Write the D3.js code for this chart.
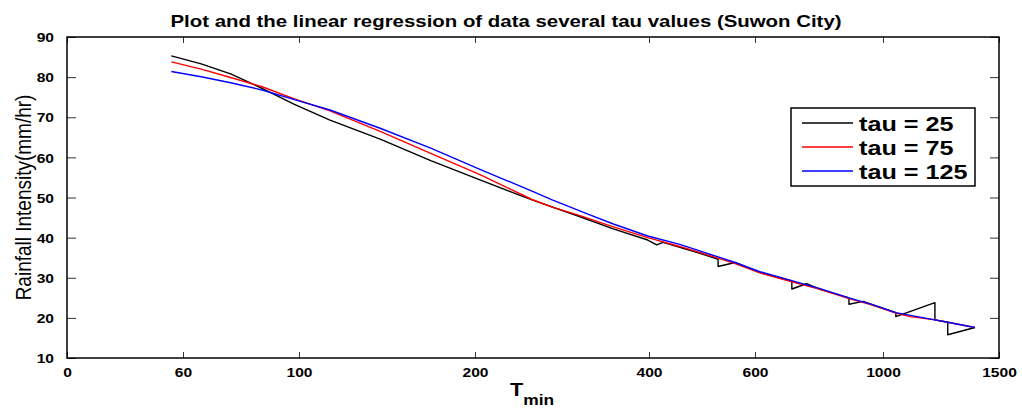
<!DOCTYPE html>
<html><head><meta charset="utf-8">
<script src="https://cdn.jsdelivr.net/npm/d3@7"></script>
<style>body{margin:0;background:#fff} svg{display:block}</style>
</head><body>
<svg id="c" width="1022" height="409"></svg>
<script>
const titleText = "Plot and the linear regression of data several tau values (Suwon City)";
const yLabelText = "Rainfall Intensity(mm/hr)";
const xTickValues = [36, 60, 100, 200, 400, 600, 1000, 1500];
const xTickLabels = ["0", "60", "100", "200", "400", "600", "1000", "1500"];
const yTickValues = [10, 20, 30, 40, 50, 60, 70, 80, 90];
const seriesNames = ["tau = 25", "tau = 75", "tau = 125"];
const seriesColors = ["#000000", "#ff0000", "#0000ff"];

const tau25T = [57, 65, 74, 85, 98, 113, 138, 168, 204, 251, 304, 347, 398, 412, 422, 450, 486, 521, 521, 556, 612, 695, 695, 737, 778, 873, 873, 924, 1046, 1046, 1199, 1199, 1254, 1254, 1379];
const tau25V = [85.3, 83.3, 80.8, 77.2, 73.2, 69.3, 64.5, 59.2, 54.4, 49.4, 45.2, 42.2, 39.4, 38.2, 38.8, 37.6, 36.1, 34.6, 32.8, 33.8, 31.3, 29.2, 27.2, 28.5, 27.1, 25.0, 23.4, 24.1, 21.3, 20.3, 23.8, 19.5, 18.9, 15.8, 17.6];

const tau75T = [57, 65, 74, 85, 98, 113, 138, 168, 204, 251, 272, 304, 347, 398, 450, 521, 556, 612, 695, 778, 873, 949, 1046, 1099, 1138, 1199, 1254, 1379];
const tau75V = [83.8, 82.0, 79.9, 77.6, 74.6, 71.6, 66.4, 61.0, 55.7, 49.5, 47.6, 45.5, 42.7, 40.0, 37.8, 34.9, 33.5, 31.2, 29.0, 27.1, 24.8, 23.4, 21.2, 20.3, 20.0, 19.5, 18.9, 17.6];

const tau125T = [57, 65, 74, 85, 98, 113, 138, 168, 204, 251, 272, 312, 347, 398, 450, 521, 556, 612, 695, 778, 873, 949, 1046, 1138, 1199, 1254, 1379];
const tau125V = [81.4, 80.1, 78.6, 76.8, 74.4, 71.8, 67.2, 62.3, 57.0, 51.6, 49.4, 46.0, 43.4, 40.4, 38.3, 35.2, 33.8, 31.5, 29.3, 27.3, 25.0, 23.5, 21.3, 20.2, 19.5, 18.9, 17.6];

const svg = d3.select("#c");
svg.append("rect").attr("width", 1022).attr("height", 409).attr("fill", "#fff");

const L = 67, R = 999, T = 37, B = 358;
const x = d3.scaleLog().domain(xTickValues).range([67, 183, 299, 475, 649, 755, 883, 999]);
const y = d3.scaleLinear().domain([10, 90]).range([B, T]);

const FONT = "'Liberation Sans', Arial, Helvetica, sans-serif";
const SX = 1.2;
function stretch(sel, f) {
  sel.each(function () {
    const w = this.getComputedTextLength();
    this.setAttribute("textLength", w * f);
    this.setAttribute("lengthAdjust", "spacingAndGlyphs");
  });
}

// axes
const xAxis = d3.axisBottom(x).tickValues(xTickValues)
  .tickFormat((d, i) => xTickLabels[i]).tickSizeInner(-6).tickSizeOuter(0).tickPadding(10);
const gx = svg.append("g").attr("transform", `translate(0,${B})`).call(xAxis);
const yAxis = d3.axisLeft(y).tickValues(yTickValues).tickSizeInner(-9).tickSizeOuter(0).tickPadding(13);
const gy = svg.append("g").attr("transform", `translate(${L},0)`).call(yAxis);
const gxt = svg.append("g").attr("transform", `translate(0,${T})`)
  .call(d3.axisTop(x).tickValues(xTickValues).tickFormat("").tickSizeInner(-6).tickSizeOuter(0));
const gyr = svg.append("g").attr("transform", `translate(${R},0)`)
  .call(d3.axisRight(y).tickValues(yTickValues).tickFormat("").tickSizeInner(-9).tickSizeOuter(0));

[gx, gy, gxt, gyr].forEach(g => {
  g.select(".domain").remove();
  g.selectAll(".tick line").attr("stroke", "#333").attr("stroke-width", 1);
  g.selectAll("text").attr("font-family", FONT).attr("font-weight", "bold")
    .attr("font-size", 13).attr("fill", "#000");
});
gy.selectAll(".tick text").attr("dy", "0.36em");
stretch(gx.selectAll(".tick text"), SX);
stretch(gy.selectAll(".tick text"), SX);

// box
svg.append("rect").attr("x", L).attr("y", T).attr("width", R - L).attr("height", B - T)
  .attr("fill", "none").attr("stroke", "#000").attr("stroke-width", 1.5);

// lines
const series = [
  { t: tau25T, v: tau25V },
  { t: tau75T, v: tau75V },
  { t: tau125T, v: tau125V }
];
const line = d3.line().x(d => x(d[0])).y(d => y(d[1]));
series.forEach((s, i) => {
  const pts = s.t.map((t, j) => [t, s.v[j]]);
  svg.append("path").datum(pts).attr("d", line).attr("fill", "none")
    .attr("stroke", seriesColors[i]).attr("stroke-width", 1.4).attr("stroke-linejoin", "round");
});

// title
const tt = svg.append("text").attr("x", 506).attr("y", 27).attr("text-anchor", "middle")
  .attr("font-family", FONT).attr("font-weight", "bold").attr("font-size", 17).text(titleText);
stretch(tt, SX);

// y label
const yl = svg.append("text").attr("transform", `translate(31,${(95 + 300) / 2}) scale(${SX},1) rotate(-90)`)
  .attr("text-anchor", "middle").attr("font-family", FONT).attr("font-size", 19).text(yLabelText);

// x label
const xl = svg.append("text").attr("x", 510).attr("y", 396)
  .attr("font-family", FONT).attr("font-weight", "bold");
xl.append("tspan").attr("font-size", 18).text("T");
xl.append("tspan").attr("font-size", 14.5).attr("dy", 9).text("min");
stretch(xl.selectAll("tspan"), SX);

// legend
const lg = svg.append("g");
lg.append("rect").attr("x", 791).attr("y", 108).attr("width", 184).attr("height", 78)
  .attr("fill", "#fff").attr("stroke", "#000").attr("stroke-width", 1.5);
seriesNames.forEach((n, i) => {
  const yy = 123 + i * 24;
  lg.append("line").attr("x1", 802).attr("x2", 853).attr("y1", yy).attr("y2", yy)
    .attr("stroke", seriesColors[i]).attr("stroke-width", 1.4);
  const t = lg.append("text").attr("x", 859).attr("y", yy + 7.5)
    .attr("font-family", FONT).attr("font-weight", "bold").attr("font-size", 21).text(n);
  stretch(t, SX);
});
</script>
</body></html>
